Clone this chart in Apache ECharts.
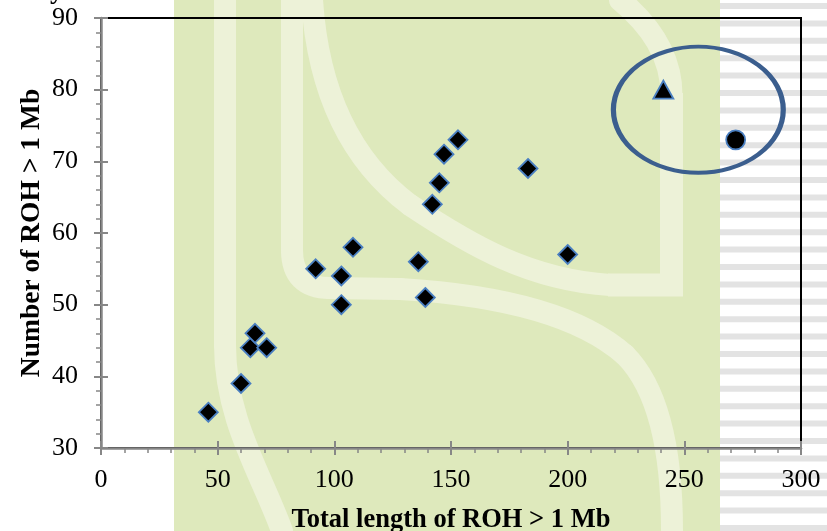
<!DOCTYPE html>
<html>
<head>
<meta charset="utf-8">
<script src="https://cdn.jsdelivr.net/npm/echarts@6/dist/echarts.min.js"></script>
<style>
html,body{margin:0;padding:0;background:#fff;}
#chart{width:827px;height:531px;}
</style>
</head>
<body>
<div id="chart"></div>
<script>
// ---- data ----
const diamondX = [46, 60, 64, 66, 71, 92, 103, 103, 108, 136, 139, 142, 145, 147, 153, 183, 200];
const diamondY = [35, 39, 44, 46, 44, 55, 54, 50, 58, 56, 51, 64, 67, 71, 73, 69, 57];
const triangleX = [241];
const triangleY = [80];
const circleX = [272];
const circleY = [73];
const xTitle = 'Total length of ROH > 1 Mb';
const yTitle = 'Number of ROH > 1 Mb';
// annotation ellipse (data units)
const ellipseCenter = [256, 77.2];
const ellipseRadius = [36.4, 8.8];

const FONT = '"Liberation Serif", "Times New Roman", serif';
const AXIS_GRAY = '#878787';
const GREEN = '#dee9bc';
const LIGHT = '#edf2d8';

const zip = (xs, ys) => xs.map((x, i) => [x, ys[i]]);

// background decoration (slide template image)
function background() {
  const els = [];
  els.push({ type: 'rect', id: 'bgGreen', z: -100, silent: true,
    shape: { x: 174, y: 0, width: 546, height: 531 }, style: { fill: GREEN } });
  const segs = [
    ['line', [225, 0, 225, 345]],
    ['bez', [225, 345, 282, 531, 225, 420, 262, 475]],
    ['line', [292, 0, 292, 250]],
    ['bez', [292, 250, 330, 288, 292, 288]],
    ['line', [330, 288, 400, 289]],
    ['bez', [400, 289, 625, 355, 500, 295, 580, 315]],
    ['bez', [625, 355, 672, 531, 655, 385, 672, 440]],
    ['bez', [312, 0, 410, 205, 318, 90, 350, 160]],
    ['bez', [410, 205, 610, 285, 470, 245, 530, 280]],
    ['bez', [671.5, 95, 620, 0, 671.5, 55, 650, 25]]
  ];
  segs.forEach((s, i) => {
    const p = s[1];
    let shape;
    if (s[0] === 'line') {
      shape = { x1: p[0], y1: p[1], x2: p[2], y2: p[3] };
    } else {
      shape = { x1: p[0], y1: p[1], x2: p[2], y2: p[3], cpx1: p[4], cpy1: p[5] };
      if (p.length > 6) { shape.cpx2 = p[6]; shape.cpy2 = p[7]; }
    }
    els.push({ type: s[0] === 'line' ? 'line' : 'bezierCurve', id: 'bgSeg' + i, z: -90, silent: true,
      shape: shape, style: { fill: null, stroke: LIGHT, lineWidth: 22, lineCap: 'round' } });
  });
  els.push({ type: 'polyline', id: 'bgCorner', z: -90, silent: true,
    shape: { points: [[608, 285], [671.5, 285], [671.5, 93]] },
    style: { fill: null, stroke: LIGHT, lineWidth: 23, lineJoin: 'miter', lineCap: 'butt' } });
  let k = 0;
  for (let y = 3; y < 531; y += 17.4) {
    els.push({ type: 'rect', id: 'stripe' + (k++), z: -100, silent: true,
      shape: { x: 720, y: y, width: 107, height: 6 }, style: { fill: '#e3e3e3' } });
  }
  els.push({ type: 'text', id: 'cutTitle', z: 5, silent: true, x: 50, y: 5,
    style: { text: 'y', font: 'bold 27px ' + FONT, fill: '#000', textAlign: 'left', textVerticalAlign: 'bottom' } });
  return els;
}

const chart = echarts.init(document.getElementById('chart'), null, { renderer: 'canvas' });

const baseX = { type: 'value', min: 0, max: 300, interval: 50, position: 'bottom' };
const baseY = { type: 'value', min: 30, max: 90, interval: 10, position: 'left' };

const option = {
  animation: false,
  backgroundColor: '#fff',
  grid: { left: 101, right: 26, top: 18, bottom: 83, containLabel: false, outerBoundsMode: 'none',
    show: true, borderColor: '#000', borderWidth: 2, backgroundColor: 'transparent' },
  xAxis: [
    Object.assign({}, baseX, {
      name: xTitle, nameLocation: 'middle', nameGap: 59, nameMoveOverlap: false,
      nameTextStyle: { fontFamily: FONT, fontWeight: 'bold', fontSize: 26.5, color: '#000' },
      axisLine: { show: true, lineStyle: { color: AXIS_GRAY, width: 2.5 } },
      axisTick: { show: true, inside: false, length: 7, lineStyle: { color: AXIS_GRAY, width: 2 } },
      minorTick: { show: true, splitNumber: 5, length: 5, lineStyle: { color: AXIS_GRAY, width: 1.5 } },
      axisLabel: { margin: 19, fontFamily: FONT, fontSize: 26, color: '#000' },
      splitLine: { show: false }
    }),
    Object.assign({}, baseX, {
      axisLine: { show: false },
      axisTick: { show: true, inside: true, length: 7, lineStyle: { color: AXIS_GRAY, width: 2 } },
      axisLabel: { show: false }, splitLine: { show: false }
    })
  ],
  yAxis: [
    Object.assign({}, baseY, {
      name: yTitle, nameLocation: 'middle', nameGap: 55, nameMoveOverlap: false,
      nameTextStyle: { fontFamily: FONT, fontWeight: 'bold', fontSize: 27.5, color: '#000' },
      axisLine: { show: true, lineStyle: { color: AXIS_GRAY, width: 2.5 } },
      axisTick: { show: true, inside: false, length: 7, lineStyle: { color: AXIS_GRAY, width: 2 } },
      minorTick: { show: true, splitNumber: 5, length: 5, lineStyle: { color: AXIS_GRAY, width: 1.5 } },
      axisLabel: { margin: 23, fontFamily: FONT, fontSize: 26, color: '#000' },
      splitLine: { show: false }
    }),
    Object.assign({}, baseY, {
      axisLine: { show: false },
      axisTick: { show: true, inside: true, length: 7, lineStyle: { color: AXIS_GRAY, width: 2 } },
      axisLabel: { show: false }, splitLine: { show: false }
    })
  ],
  series: [
    { type: 'scatter', name: 'diamond', xAxisIndex: 0, yAxisIndex: 0, data: zip(diamondX, diamondY),
      symbol: 'diamond', symbolSize: 19, z: 5,
      itemStyle: { color: '#000', borderColor: '#4a7fc1', borderWidth: 1.8, opacity: 1 } },
    { type: 'scatter', name: 'triangle', xAxisIndex: 0, yAxisIndex: 0, data: zip(triangleX, triangleY),
      symbol: 'triangle', symbolSize: [20, 18], z: 5,
      itemStyle: { color: '#000', borderColor: '#4a7fc1', borderWidth: 1.8, opacity: 1 } },
    { type: 'scatter', name: 'circle', xAxisIndex: 0, yAxisIndex: 0, data: zip(circleX, circleY),
      symbol: 'circle', symbolSize: 19, z: 5,
      itemStyle: { color: '#000', borderColor: '#4a7fc1', borderWidth: 1.8, opacity: 1 } }
  ],
  graphic: background()
};
chart.setOption(option);

// annotation ellipse placed through the axis scales
const c = chart.convertToPixel({ gridIndex: 0 }, ellipseCenter);
const e = chart.convertToPixel({ gridIndex: 0 }, [ellipseCenter[0] + ellipseRadius[0], ellipseCenter[1] + ellipseRadius[1]]);
const rx = Math.abs(e[0] - c[0]);
const ry = Math.abs(e[1] - c[1]);
const g = background();
g.push({ type: 'circle', id: 'ring', z: 50, silent: true,
  x: c[0], y: c[1], scaleX: rx, scaleY: ry,
  shape: { cx: 0, cy: 0, r: 1 },
  style: { fill: null, stroke: '#3b5e8e', lineWidth: 4.5, strokeNoScale: true } });
chart.setOption({ graphic: g });
</script>
</body>
</html>
